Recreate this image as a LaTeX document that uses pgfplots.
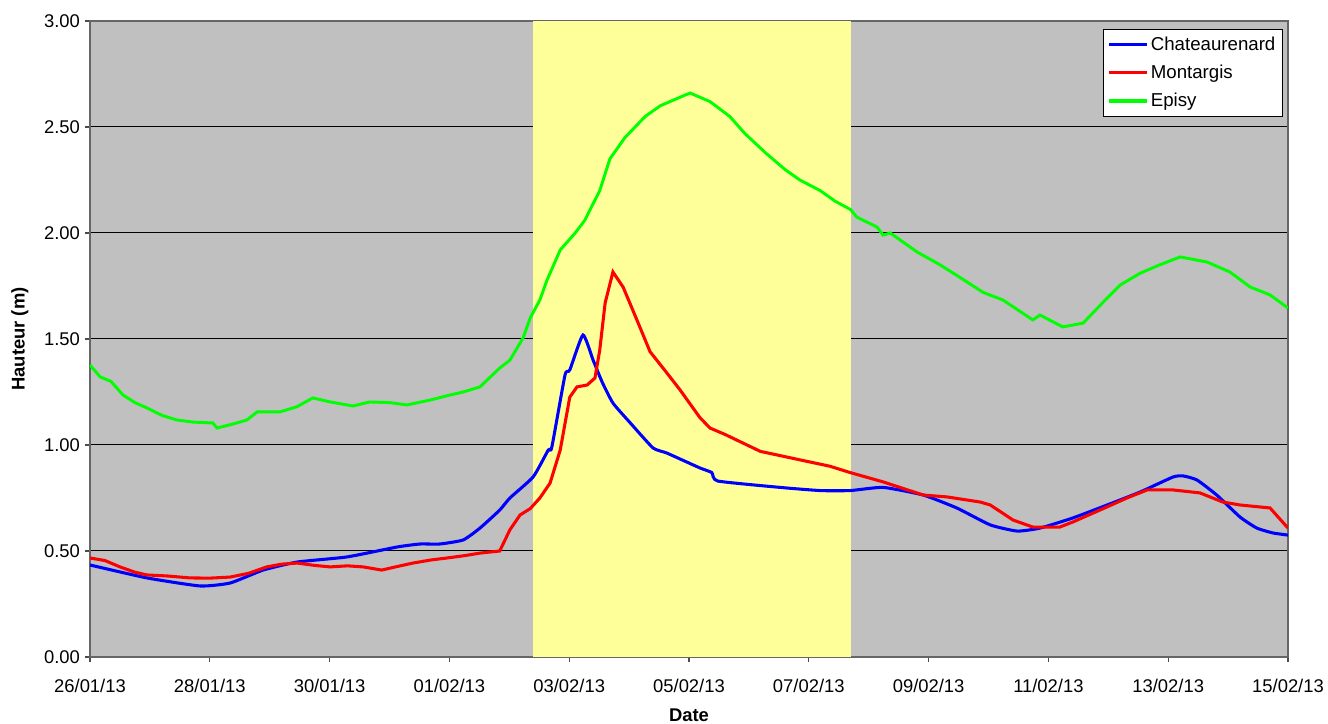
\documentclass[border=0pt]{standalone}
\usepackage{pgfplots}
\pgfplotsset{compat=1.18}
\usepackage{fontspec}
\setmainfont{Liberation Sans}
\definecolor{bggray}{HTML}{C0C0C0}
\definecolor{band}{HTML}{FFFF99}
\definecolor{cblue}{HTML}{0000FF}
\definecolor{cred}{HTML}{FF0000}
\definecolor{cgreen}{HTML}{00FF00}
\begin{document}
\begin{tikzpicture}
\begin{axis}[
  scale only axis,
  width=898.5pt, height=477pt,
  xmin=0, xmax=20, ymin=0, ymax=3,
  axis background/.style={fill=bggray},
  axis line style={draw=black!60, line width=1pt},
  xtick={0,2,...,20},
  xticklabels={26/01/13,28/01/13,30/01/13,01/02/13,03/02/13,05/02/13,07/02/13,09/02/13,11/02/13,13/02/13,15/02/13},
  ytick={0,0.5,...,3},
  yticklabel style={/pgf/number format/.cd, fixed, fixed zerofill, precision=2, assume math mode=true},
  xticklabel style={yshift=-9pt},
  xtick pos=left, ytick pos=left,
  tick align=outside,
  major tick length=4pt,
  tick style={draw=black!70, line width=0.8pt},
  ymajorgrids,
  major grid style={draw=black, line width=0.75pt},
  ticklabel style={font=\fontsize{13.8}{15}\selectfont},
  xlabel={\textbf{Date}},
  ylabel={\textbf{Hauteur (m)}},
  label style={font=\fontsize{13.8}{15}\selectfont},
  xlabel style={yshift=-5pt},
  ylabel style={yshift=5pt},
  legend style={at={(0.9958,0.987)}, anchor=north east, draw=black, fill=white,
    font=\fontsize{14}{15}\selectfont, row sep=5.5pt, inner sep=3.5pt},
  legend cell align=left,
  legend image post style={line width=2.5pt},
  legend image code/.code={\draw[#1] (0pt,0pt) -- (28pt,0pt);},
]
\coordinate (sw) at (rel axis cs:0,0);
\coordinate (ne) at (rel axis cs:1,1);
\addplot[fill=band, draw=none, forget plot] coordinates {(7.40,3) (12.70,3)} \closedcycle;

\addplot[cblue, line width=2.3pt, smooth, tension=0.3] coordinates {
(0,0.434) (0.95,0.373) (1.84,0.335) (2.34,0.349) (2.89,0.41) (3.46,0.448) (4.29,0.472)
(5.13,0.519) (5.51,0.533) (5.84,0.533) (6.23,0.552) (6.51,0.608) (6.84,0.693) (7.01,0.75)
(7.40,0.85) (7.65,0.976) (7.71,0.99) (7.93,1.33) (8.01,1.354) (8.23,1.519) (8.40,1.40)
(8.55,1.297) (8.73,1.198) (9.02,1.104) (9.40,0.986) (9.63,0.962) (10.18,0.892) (10.38,0.87)
(10.48,0.83) (11.52,0.80) (12.19,0.785) (12.69,0.785) (13.24,0.80) (13.91,0.764) (14.47,0.703)
(15.03,0.623) (15.48,0.594) (15.86,0.608) (16.41,0.656) (16.98,0.717) (17.53,0.778) (18.08,0.849)
(18.25,0.854) (18.48,0.835) (18.81,0.764) (19.20,0.66) (19.48,0.608) (19.75,0.585) (20.0,0.575)
};
\addlegendentry{Chateaurenard}

\addplot[cred, line width=2.3pt] coordinates {
(0,0.467) (0.25,0.455) (0.50,0.425) (0.75,0.400) (0.95,0.387) (1.3,0.382) (1.67,0.373) (2.0,0.372) (2.34,0.377)
(2.65,0.395) (2.95,0.425) (3.2,0.438) (3.46,0.443) (3.75,0.432) (4.01,0.425) (4.3,0.430) (4.56,0.425)
(4.87,0.41) (5.1,0.425) (5.39,0.443) (5.7,0.458) (5.96,0.467) (6.25,0.478) (6.51,0.49) (6.84,0.50)
(7.01,0.60) (7.18,0.67) (7.35,0.70) (7.51,0.75) (7.68,0.82) (7.85,0.976) (8.01,1.226) (8.13,1.274)
(8.30,1.283) (8.43,1.316) (8.51,1.448) (8.60,1.67) (8.73,1.816) (8.90,1.745) (9.13,1.59) (9.35,1.44)
(9.63,1.34) (9.85,1.26) (10.18,1.13) (10.35,1.08) (10.60,1.05) (11.19,0.97) (11.85,0.93) (12.35,0.90)
(12.69,0.87) (13.24,0.826) (13.91,0.764) (14.31,0.755) (14.86,0.731) (15.03,0.717) (15.41,0.646)
(15.74,0.613) (16.19,0.613) (16.41,0.637) (16.98,0.708) (17.31,0.75) (17.65,0.788) (18.08,0.788)
(18.53,0.774) (18.91,0.731) (19.20,0.717) (19.70,0.703) (20.0,0.608)
};
\addlegendentry{Montargis}

\addplot[cgreen, line width=2.2pt] coordinates {
(0,1.377) (0.17,1.321) (0.35,1.300) (0.55,1.236) (0.75,1.200) (0.95,1.175) (1.2,1.140) (1.45,1.118)
(1.72,1.108) (2.05,1.104) (2.12,1.08) (2.4,1.100) (2.62,1.118) (2.79,1.156) (3.17,1.156) (3.45,1.180)
(3.72,1.222) (4.01,1.203) (4.39,1.184) (4.67,1.203) (5.0,1.200) (5.29,1.189) (5.68,1.212) (6.0,1.235)
(6.23,1.25) (6.51,1.274) (6.84,1.363) (7.01,1.40) (7.23,1.505) (7.35,1.60) (7.51,1.684) (7.63,1.778)
(7.85,1.92) (8.10,2.0) (8.26,2.06) (8.51,2.2) (8.68,2.35) (8.93,2.45) (9.27,2.55) (9.52,2.6)
(9.93,2.65) (10.02,2.66) (10.35,2.62) (10.68,2.55) (10.93,2.47) (11.27,2.38) (11.60,2.30) (11.85,2.25)
(12.19,2.20) (12.44,2.15) (12.70,2.11) (12.80,2.075) (13.14,2.028) (13.24,1.99) (13.36,2.0) (13.81,1.91)
(14.19,1.85) (14.47,1.80) (14.91,1.72) (15.24,1.684) (15.74,1.59) (15.86,1.613) (16.24,1.557)
(16.58,1.575) (16.98,1.693) (17.20,1.755) (17.53,1.81) (17.86,1.85) (18.20,1.887) (18.65,1.863)
(19.03,1.816) (19.37,1.745) (19.70,1.708) (20.0,1.646)
};
\addlegendentry{Episy}
\end{axis}
\pgfresetboundingbox
\path ([shift={(-67.5pt,-50.25pt)}]sw) rectangle ([shift={(30pt,15.75pt)}]ne);
\end{tikzpicture}
\end{document}
